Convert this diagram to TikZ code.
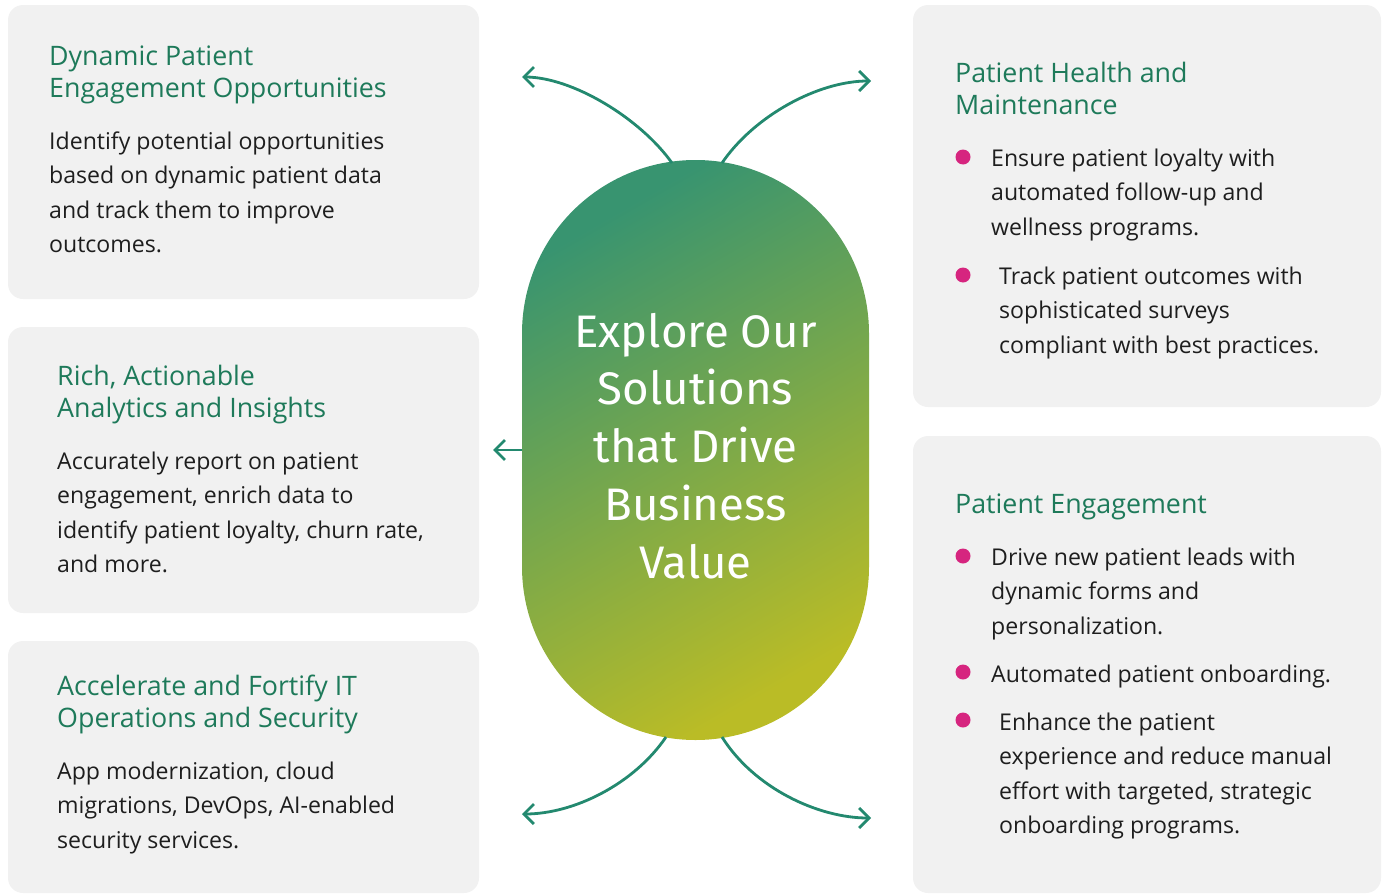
\documentclass[tikz,border=0pt]{standalone}
\usepackage{fontspec}
\setmainfont{Open Sans}
\newfontfamily\titlefont{Fira Sans}
\usetikzlibrary{arrows.meta}
\definecolor{boxbg}{RGB}{241,241,241}
\definecolor{headgreen}{RGB}{30,122,90}
\definecolor{bodytext}{RGB}{30,30,30}
\definecolor{bulletpink}{RGB}{214,37,127}
\definecolor{arrowteal}{RGB}{35,137,111}
\definecolor{pilltop}{RGB}{56,148,112}
\definecolor{pillbot}{RGB}{186,188,38}
\tikzset{
  x=1pt, y=-1pt,
  card/.style={fill=boxbg, rounded corners=15pt},
  heading/.style={anchor=base west, inner sep=0pt, align=left, text=headgreen,
    font=\fontsize{26.8}{32}\selectfont},
  bodypar/.style={anchor=base west, inner sep=0pt, align=left, text=bodytext,
    font=\fontsize{23.1}{34.6}\selectfont},
  dot/.style={circle, fill=bulletpink, inner sep=0pt, minimum size=15pt},
  flow/.style={draw=arrowteal, line width=2.8pt, -{Straight Barb[length=10pt,width=20pt,line width=2.8pt]}},
}
\begin{document}
\begin{tikzpicture}
\useasboundingbox (0,0) rectangle (1389,894);
% cards
\path[card] (8,5) rectangle (479,299);
\path[card] (8,327) rectangle (479,613);
\path[card] (8,641) rectangle (479,893);
\path[card] (913,5) rectangle (1381,407);
\path[card] (913,436) rectangle (1381,893);
% center pill
\node (pill) [minimum width=347pt, minimum height=580pt, rounded corners=173.5pt,
  top color=pilltop, bottom color=pillbot, shading angle=30, inner sep=0pt]
  at (695.5,450) {};
\node (title) [anchor=base, inner sep=0pt, text=white, align=center,
  font=\titlefont\fontsize{45.6}{57.7}\selectfont]
  at (695.5,578) {Explore Our\\Solutions\\that Drive\\Business\\Value};
% arrow ends
\coordinate (tls) at (672,163); \coordinate (tle) at (522,77);
\coordinate (trs) at (722,163); \coordinate (tre) at (871,81);
\coordinate (bls) at (666,737); \coordinate (ble) at (522,814);
\coordinate (brs) at (722,737); \coordinate (bre) at (871,818);
\coordinate (mls) at (522,450); \coordinate (mle) at (493,450);
\draw[flow] (tls) .. controls (640,118) and (572,77) .. (tle);
\draw[flow] (trs) .. controls (754,116) and (818,81) .. (tre);
\draw[flow] (bls) .. controls (634,784) and (574,814) .. (ble);
\draw[flow] (brs) .. controls (754,788) and (818,818) .. (bre);
\draw[flow] (mls) -- (mle);
% left texts (anchor = baseline of last line)
\node (h1) [heading] at (49,97) {Dynamic Patient\\Engagement Opportunities};
\node (b1) [bodypar] at (49,252.8) {Identify potential opportunities\\based on dynamic patient data\\and track them to improve\\outcomes.};
\node (h2) [heading] at (57,417) {Rich, Actionable\\Analytics and Insights};
\node (b2) [bodypar] at (57,572.8) {Accurately report on patient\\engagement, enrich data to\\identify patient loyalty, churn rate,\\and more.};
\node (h3) [heading] at (57,727) {Accelerate and Fortify IT\\Operations and Security};
\node (b3) [bodypar] at (57,848.2) {App modernization, cloud\\migrations, DevOps, AI-enabled\\security services.};
% right texts
\node (h4) [heading] at (955,114) {Patient Health and\\Maintenance};
\node (d1) [dot] at (963,157) {};
\node (t1) [bodypar] at (991,235.2) {Ensure patient loyalty with\\automated follow-up and\\wellness programs.};
\node (d2) [dot] at (963,275) {};
\node (t2) [bodypar] at (999,353.2) {Track patient outcomes with\\sophisticated surveys\\compliant with best practices.};
\node (h5) [heading] at (955,513) {Patient Engagement};
\node (d3) [dot] at (963,556) {};
\node (t3) [bodypar] at (991,634.2) {Drive new patient leads with\\dynamic forms and\\personalization.};
\node (d4) [dot] at (963,672) {};
\node (t4) [bodypar] at (991,682) {Automated patient onboarding.};
\node (d5) [dot] at (963,720) {};
\node (t5) [bodypar] at (999,833.8) {Enhance the patient\\experience and reduce manual\\effort with targeted, strategic\\onboarding programs.};
\end{tikzpicture}
\end{document}
